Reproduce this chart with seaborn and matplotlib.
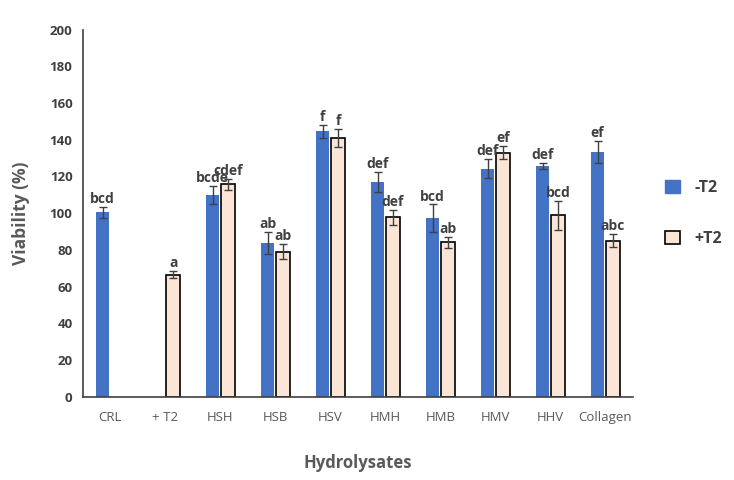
import numpy as np
import pandas as pd
import matplotlib
matplotlib.use("Agg")
import matplotlib.pyplot as plt
import seaborn as sns
from matplotlib.patches import Patch

categories = ['CRL', '+ T2', 'HSH', 'HSB', 'HSV', 'HMH', 'HMB', 'HMV', 'HHV', 'Collagen']
minus_t2 = [100.5, np.nan, 110.0, 83.8, 144.5, 116.8, 97.2, 124.3, 125.8, 133.2]
plus_t2 = [np.nan, 66.5, 115.8, 79.0, 140.8, 97.8, 84.0, 133.0, 98.8, 85.0]
minus_err = [3.0, np.nan, 5.0, 6.0, 3.5, 5.5, 7.5, 5.0, 1.5, 6.0]
plus_err = [np.nan, 2.0, 3.0, 4.0, 5.0, 4.0, 3.0, 3.5, 8.0, 3.5]
minus_letters = ['bcd', '', 'bcde', 'ab', 'f', 'def', 'bcd', 'def', 'def', 'ef']
plus_letters = ['', 'a', 'cdef', 'ab', 'f', 'def', 'ab', 'ef', 'bcd', 'abc']

series = ['-T2', '+T2']
colors = {'-T2': '#4472C4', '+T2': '#FBE5D6'}

rows = []
for i, c in enumerate(categories):
    rows.append({'cat': c, 'grp': '-T2', 'val': minus_t2[i], 'err': minus_err[i], 'lab': minus_letters[i]})
    rows.append({'cat': c, 'grp': '+T2', 'val': plus_t2[i], 'err': plus_err[i], 'lab': plus_letters[i]})
df = pd.DataFrame(rows)

sns.set_style('white')
plt.rcParams['font.family'] = ['Open Sans', 'DejaVu Sans']
txt = '#404040'

fig = plt.figure(figsize=(7.34, 4.8), dpi=100)
ax = fig.add_axes([0.113, 0.1735, 0.749, 0.765])

sns.barplot(data=df.dropna(subset=['val']), x='cat', y='val', hue='grp', order=categories,
            hue_order=series, palette=colors, width=0.56, gap=0.14, legend=False,
            saturation=1, ax=ax, errorbar=None)

# edges and error bars / letters
bar_conts = list(ax.containers)
for k, cont in enumerate(bar_conts):
    g = series[k]
    sub = df[df.grp == g].set_index('cat')
    for p in cont.patches:
        if g == '+T2':
            p.set_edgecolor('black')
            p.set_linewidth(1.2)
        else:
            p.set_edgecolor('#4472C4')
            p.set_linewidth(0)
        xc = p.get_x() + p.get_width() / 2
        idx = int(round(xc))
        if idx < 0 or idx >= len(categories):
            continue
        row = sub.loc[categories[idx]]
        if np.isnan(row['val']) or p.get_height() == 0:
            continue
        ax.errorbar(xc, row['val'], yerr=row['err'], fmt='none', ecolor='#404040',
                    elinewidth=1, capsize=3, capthick=1)
        ax.text(xc, row['val'] + row['err'] + 0.5, row['lab'], ha='center', va='bottom',
                fontsize=10, fontweight='bold', color=txt)

ax.set_ylim(0, 200)
ax.set_yticks(range(0, 201, 20))
ax.set_xlim(-0.5, len(categories) - 0.5)
ax.set_xticks(range(len(categories)))
ax.set_xticklabels(categories)
ax.set_xticks(np.arange(-0.5, len(categories), 1), minor=True)
ax.tick_params(axis='x', which='major', length=0, pad=10, labelsize=9.5, labelcolor='#595959')
ax.tick_params(axis='x', which='minor', length=5, width=1, color='#404040', direction='out')
ax.tick_params(axis='y', length=4, width=1, color='#404040', direction='out', labelsize=9.5,
               labelcolor='#404040')
for lab in ax.get_yticklabels():
    lab.set_fontweight('bold')

sns.despine(ax=ax)
ax.spines['left'].set_color('#404040')
ax.spines['bottom'].set_color('#404040')
ax.spines['left'].set_linewidth(1.2)
ax.spines['bottom'].set_linewidth(1.2)

ax.set_xlabel('Hydrolysates', fontsize=12, fontweight='bold', color='#595959', labelpad=22)
ax.set_ylabel('Viability (%)', fontsize=12.5, fontweight='bold', color='#595959', labelpad=14)

handles = [Patch(facecolor=colors['-T2'], edgecolor=colors['-T2']),
           Patch(facecolor=colors['+T2'], edgecolor='black', linewidth=1.2)]
leg = fig.legend(handles, series, loc='center left', bbox_to_anchor=(0.887, 0.555),
                 frameon=False, handlelength=0.9, handleheight=0.9, labelspacing=2.2,
                 handletextpad=0.9, prop={'weight': 'bold', 'size': 11.5})
for t in leg.get_texts():
    t.set_color(txt)

fig.savefig('out.png', dpi=100)
